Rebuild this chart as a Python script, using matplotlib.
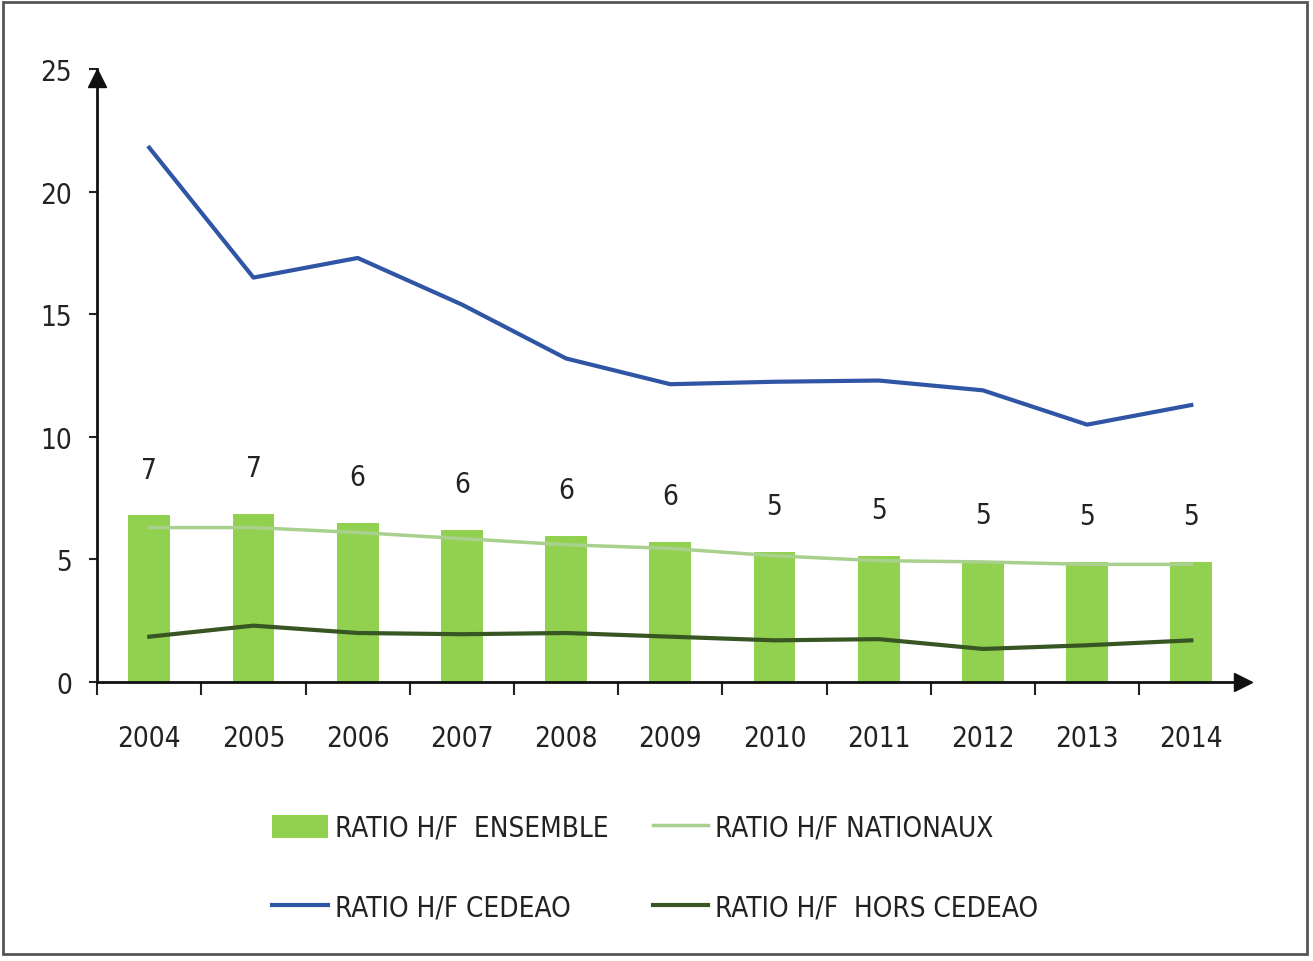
import numpy as np
import matplotlib
matplotlib.use('Agg')
import matplotlib.pyplot as plt
from matplotlib.patches import Rectangle

plt.rcParams['font.family'] = ['DejaVu Sans']
plt.rcParams['font.stretch'] = 'condensed'

years = ['2004', '2005', '2006', '2007', '2008', '2009', '2010', '2011', '2012', '2013', '2014']
ensemble = [6.8, 6.85, 6.5, 6.2, 5.95, 5.7, 5.3, 5.15, 4.95, 4.9, 4.9]
ensemble_lbl = ['7', '7', '6', '6', '6', '6', '5', '5', '5', '5', '5']
nationaux = [6.3, 6.3, 6.1, 5.85, 5.6, 5.45, 5.15, 4.95, 4.9, 4.8, 4.8]
cedeao = [21.8, 16.5, 17.3, 15.4, 13.2, 12.15, 12.25, 12.3, 11.9, 10.5, 11.3]
hors_cedeao = [1.85, 2.3, 2.0, 1.95, 2.0, 1.85, 1.7, 1.75, 1.35, 1.5, 1.7]

x = np.arange(len(years))
fs = 20

fig = plt.figure(figsize=(13.13, 9.62), dpi=100)
ax = fig.add_axes([0.074, 0.29, 0.873, 0.637])

b = ax.bar(x, ensemble, width=0.4, color='#92D050', label='RATIO H/F  ENSEMBLE', zorder=2)
l1, = ax.plot(x, nationaux, color='#A9D18E', lw=2.5, label='RATIO H/F NATIONAUX', zorder=3)
l2, = ax.plot(x, cedeao, color='#2F55A4', lw=3, label='RATIO H/F CEDEAO', zorder=3)
l3, = ax.plot(x, hors_cedeao, color='#375623', lw=3, label='RATIO H/F  HORS CEDEAO', zorder=3)

# data labels above the bars
for xi, v, t in zip(x, ensemble, ensemble_lbl):
    ax.annotate(t, (xi, v), xytext=(0, 33), textcoords='offset points',
                ha='center', va='center', fontsize=fs, color='#222222')

ax.set_xlim(-0.5, 10.5)
ax.set_ylim(0, 25)
ax.set_yticks([0, 5, 10, 15, 20, 25])
ax.set_xticks(np.arange(-0.5, 10.5, 1.0))
ax.set_xticklabels([])
ax.set_xticks(x, minor=True)
ax.set_xticklabels(years, minor=True)
ax.tick_params(axis='x', which='major', direction='out', length=9, width=1.5, color='#222222')
ax.tick_params(axis='x', which='minor', length=0, pad=30, labelsize=fs, labelcolor='#222222')
ax.tick_params(axis='y', direction='out', length=6, width=1.5, pad=12, labelsize=fs,
               labelcolor='#222222', color='#222222')

for s in ['top', 'right']:
    ax.spines[s].set_visible(False)
for s in ['left', 'bottom']:
    ax.spines[s].set_linewidth(2)
    ax.spines[s].set_color('#111111')

# arrow heads on axes
ax.plot(1, 0, marker='>', color='#111111', ms=13, transform=ax.transAxes, clip_on=False)
ax.plot(0, 0.985, marker='^', color='#111111', ms=13, transform=ax.transAxes, clip_on=False)

fig.legend(handles=[b, l2, l1, l3], ncol=2, loc='center', bbox_to_anchor=(0.499, 0.097),
           frameon=False, fontsize=fs, handlelength=2.0, handleheight=0.9, handletextpad=0.25,
           columnspacing=1.6, labelspacing=1.85, labelcolor='#222222')

fig.patches.append(Rectangle((0.0023, 0.0073), 0.9931, 0.9897, transform=fig.transFigure,
                             fill=False, edgecolor='#555555', lw=2))

fig.savefig('out.png', dpi=100)
